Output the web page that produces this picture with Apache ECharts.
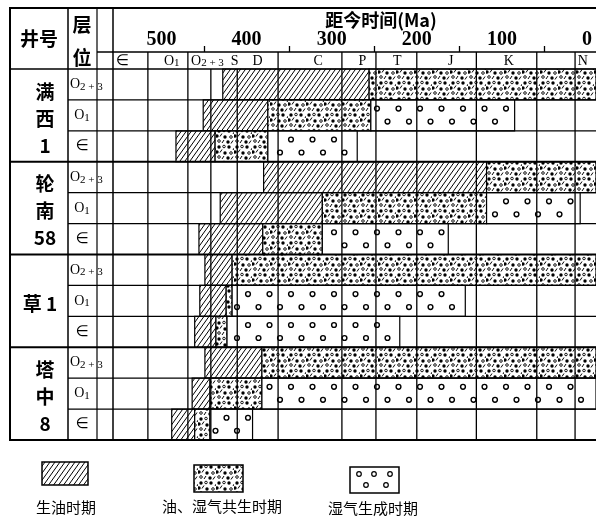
<!DOCTYPE html>
<html><head><meta charset="utf-8">
<script src="https://cdn.jsdelivr.net/npm/echarts@6/dist/echarts.min.js"></script>
<style>html,body{margin:0;padding:0;background:#fff}#c{width:596px;height:517px}</style>
</head><body><div id="c"></div>
<script>
// ===== DATA (ages in Ma) =====
const wells = ['满西1', '轮南58', '草1', '塔中8'];
const wellLabels = ['满\n西\n1', '轮\n南\n58', '草 1', '塔\n中\n8'];
const strata = ['O2+3', 'O1', '∈'];
// 12 rows = 4 wells x 3 strata (O2+3, O1, ∈)
const oilStart = [428, 451, 483, 380, 431, 456, 449, 455, 461, 449, 464, 488];
const oilEnd   = [256, 375, 437, 118, 311, 381, 417, 424, 436, 382, 443, 461];
const cogenEnd = [-10.6, 254, 375, -10.6, 118, 311, -10.6, 417, 423, -10.6, 382, 443];
const gasEnd   = [null, 85, 270, null, 8, 163, null, 143, 220, null, -10.6, 393];
const periodBounds = [516, 469, 442, 411, 363, 288, 248, 200, 130, 59, 14];
const boundsInHeader = [1, 1, 0, 0, 1, 1, 1, 1, 1, 1, 1];
const periodNames = ['∈', 'O1', 'O2+3', 'S', 'D', 'C', 'P', 'T', 'J', 'K', 'N'];
const periodLabelAge = [546, 488, 446, 414, 387, 316, 264, 223, 160, 92, 5];
const ageLabels = [500, 400, 300, 200, 100, 0];
const ageTicks = [450, 350, 250, 150, 50];
const legendNames = ['生油时期', '油、湿气共生时期', '湿气生成时期'];
const axisTitle = '距今时间(Ma)';

// ===== textures =====
function makeHatch() {
  const c = document.createElement('canvas'); c.width = 5; c.height = 7;
  const g = c.getContext('2d');
  g.fillStyle = '#fff'; g.fillRect(0, 0, 5, 7);
  g.strokeStyle = '#000'; g.lineWidth = 1;
  g.beginPath();
  [-5, 0, 5].forEach(dx => { g.moveTo(dx - 1, 8.4); g.lineTo(dx + 6, -1.4); });
  g.stroke();
  return c;
}
function makeCogen() {
  const W = 18, H = 16;
  const c = document.createElement('canvas'); c.width = W; c.height = H;
  const g = c.getContext('2d');
  g.fillStyle = '#fff'; g.fillRect(0, 0, W, H);
  g.fillStyle = '#000'; g.strokeStyle = '#000';
  [[3, 3], [13, 3], [9, 9], [12, 14], [1, 8]].forEach(p => { g.beginPath(); g.arc(p[0], p[1], 1.7, 0, Math.PI * 2); g.fill(); });
  g.lineWidth = 0.9;
  [[8, 2.5], [15, 9], [3, 13]].forEach(p => { g.beginPath(); g.arc(p[0], p[1], 1.3, 0, Math.PI * 2); g.stroke(); });
  g.lineWidth = 1;
  g.beginPath();
  [[4, 8.5, 6, 5.5], [6, 15, 8, 12], [15, 15.5, 17, 12.5], [17, 6, 18.5, 3.5]].forEach(s => { g.moveTo(s[0], s[1]); g.lineTo(s[2], s[3]); });
  g.stroke();
  return c;
}
const hatchFill = { image: makeHatch(), repeat: 'repeat' };
const cogenFill = { image: makeCogen(), repeat: 'repeat' };

const AX_MIN = -10.6, AX_MAX = 557;
const rows = strata.length * wells.length;

const barData = [];
for (let i = 0; i < rows; i++) {
  barData.push([oilStart[i], i, oilEnd[i], 0]);
  barData.push([oilEnd[i], i, cogenEnd[i], 1]);
  if (gasEnd[i] !== null) barData.push([cogenEnd[i], i, gasEnd[i], 2]);
}

function gasCircles(x, y, w, h) {
  const out = [];
  const yy = [y + h * 0.28, y + h * 0.7];
  yy.forEach((cy, r) => {
    for (let k = 0; k < 30; k++) {
      const cx = 119 + r * 10.5 + k * 21.5;
      if (cx > x + 4 && cx < x + w - 4) {
        out.push({ type: 'circle', shape: { cx, cy, r: 2.4 }, style: { fill: '#fff', stroke: '#000', lineWidth: 1.4 } });
      }
    }
  });
  return out;
}

function renderBar(params, api) {
  const s = api.value(0), row = api.value(1), e = api.value(2), kind = api.value(3);
  const a = api.coord([s, row]), b = api.coord([e, row]);
  const h = api.size([0, 1])[1];
  const x = a[0], w = b[0] - a[0], y = a[1] - h / 2;
  if (kind === 0) return { type: 'rect', shape: { x, y, width: w, height: h }, style: { fill: hatchFill, stroke: '#000', lineWidth: 1.2 } };
  if (kind === 1) return { type: 'rect', shape: { x, y, width: w, height: h }, style: { fill: cogenFill, stroke: '#000', lineWidth: 1.2 } };
  return { type: 'group', children: [{ type: 'rect', shape: { x, y, width: w, height: h }, style: { fill: '#fff', stroke: '#000', lineWidth: 1.2 } }].concat(gasCircles(x, y, w, h)) };
}

const subRich = {
  o: { fontSize: 14, fontFamily: 'Liberation Serif', color: '#000' },
  s: { fontSize: 11, fontFamily: 'Liberation Serif', color: '#000', verticalAlign: 'bottom', padding: [5, 0, 0, 0] },
  e: { fontSize: 15, fontFamily: 'DejaVu Sans', color: '#000' }
};
function stratText(n) {
  if (n === 'O2+3') return '{o|O}{s|2 + 3}';
  if (n === 'O1') return '{o|O}{s|1}';
  if (n === '∈') return '{e|∈}';
  return '{o|' + n + '}';
}

function renderTable(params, api) {
  const row = api.value(1);
  const p = api.coord([AX_MIN, row]);
  const h = api.size([0, 1])[1];
  const top = p[1] - h / 2, bot = p[1] + h / 2;
  const si = row % strata.length, wi = Math.floor(row / strata.length);
  const ch = [];
  const wellEnd = si === strata.length - 1;
  ch.push({ type: 'line', shape: { x1: wellEnd ? 10 : 68, y1: bot, x2: 596, y2: bot }, style: { stroke: '#000', lineWidth: wellEnd ? 2 : 1.3 } });
  if (row === 0) ch.push({ type: 'line', shape: { x1: 10, y1: top, x2: 596, y2: top }, style: { stroke: '#000', lineWidth: 1.6 } });
  const n = strata[si];
  ch.push({ type: 'text', x: n === 'O2+3' ? 70 : 82, y: p[1], style: { text: stratText(n), rich: subRich, align: n === 'O2+3' ? 'left' : 'center', verticalAlign: 'middle' } });
  if (si === 0) {
    const single = wellLabels[wi].indexOf('\n') < 0;
    ch.push({ type: 'text', x: single ? 40 : 45, y: top + 1.5 * h + 3, style: { text: wellLabels[wi], fontSize: 19, lineHeight: 27, fontFamily: 'Noto Sans CJK SC', fontWeight: 'bold', fill: '#000', align: 'center', verticalAlign: 'middle' } });
  }
  return { type: 'group', children: ch };
}

function renderBound(params, api) {
  const age = api.value(0), inHead = api.value(2);
  const p0 = api.coord([age, 0]), p1 = api.coord([age, rows - 1]);
  const h = api.size([0, 1])[1];
  const top = p0[1] - h / 2 - (inHead ? 17 : 0);
  return { type: 'line', shape: { x1: p0[0], y1: top, x2: p0[0], y2: p1[1] + h / 2 }, style: { stroke: '#000', lineWidth: 1.3 } };
}

function renderHead(params, api) {
  const age = api.value(0), j = api.value(2);
  const p = api.coord([age, 0]);
  const h = api.size([0, 1])[1];
  const n = periodNames[j];
  return { type: 'text', x: p[0], y: p[1] - h / 2 - 8, style: { text: stratText(n), rich: subRich, align: 'center', verticalAlign: 'middle' } };
}

const chart = echarts.init(document.getElementById('c'));
const ink = { stroke: '#000', lineWidth: 1.5 };
chart.setOption({
  animation: false,
  backgroundColor: '#fff',
  grid: { left: 113, right: 0, top: 69, bottom: 77 },
  xAxis: {
    type: 'value', inverse: true, min: AX_MIN, max: AX_MAX, position: 'top', offset: 17,
    axisLine: { show: true, lineStyle: { color: '#000', width: 1.5 } },
    axisTick: { show: true, customValues: ageTicks, length: 6, lineStyle: { color: '#000', width: 1.3 } },
    axisLabel: { customValues: ageLabels, fontSize: 20, fontFamily: 'Liberation Serif', fontWeight: 'bold', color: '#000', margin: 2 },
    splitLine: { show: false }
  },
  yAxis: { type: 'category', inverse: true, show: false, data: Array.from({ length: rows }, (_, i) => i) },
  series: [
    { type: 'custom', renderItem: renderBar, data: barData, encode: { x: [0, 2], y: 1 }, z: 2, silent: true },
    { type: 'custom', renderItem: renderBound, data: periodBounds.map((a, j) => [a, 0, boundsInHeader[j]]), encode: { x: 0, y: 1 }, z: 3, silent: true },
    { type: 'custom', renderItem: renderTable, data: Array.from({ length: rows }, (_, i) => [AX_MIN, i]), encode: { x: 0, y: 1 }, z: 4, silent: true },
    { type: 'custom', renderItem: renderHead, data: periodLabelAge.map((a, j) => [a, 0, j]), encode: { x: 0, y: 1 }, z: 4, silent: true }
  ],
  graphic: [
    { type: 'rect', shape: { x: 10, y: 8, width: 590, height: 432 }, style: { fill: null, stroke: '#000', lineWidth: 2 }, z: 10 },
    { type: 'line', shape: { x1: 68, y1: 8, x2: 68, y2: 440 }, style: ink, z: 10 },
    { type: 'line', shape: { x1: 97, y1: 8, x2: 97, y2: 440 }, style: { stroke: '#000', lineWidth: 1.2 }, z: 10 },
    { type: 'line', shape: { x1: 113, y1: 8, x2: 113, y2: 440 }, style: ink, z: 10 },
    { type: 'line', shape: { x1: 97, y1: 52, x2: 113, y2: 52 }, style: ink, z: 10 },
    { type: 'text', x: 39, y: 39, style: { text: '井号', fontSize: 19, fontFamily: 'Noto Sans CJK SC', fontWeight: 'bold', fill: '#000', align: 'center', verticalAlign: 'middle' }, z: 10 },
    { type: 'text', x: 82, y: 41, style: { text: '层\n位', fontSize: 19, lineHeight: 33, fontFamily: 'Noto Sans CJK SC', fontWeight: 'bold', fill: '#000', align: 'center', verticalAlign: 'middle' }, z: 10 },
    { type: 'text', x: 381, y: 20, style: { text: axisTitle, fontSize: 18, fontFamily: 'Noto Sans CJK SC', fontWeight: 'bold', fill: '#000', align: 'center', verticalAlign: 'middle' }, z: 10 },
    // legend
    { type: 'rect', shape: { x: 42, y: 462, width: 46, height: 23 }, style: { fill: hatchFill, stroke: '#000', lineWidth: 1.5 }, z: 10 },
    { type: 'rect', shape: { x: 194, y: 465, width: 49, height: 27 }, style: { fill: cogenFill, stroke: '#000', lineWidth: 1.5 }, z: 10 },
    { type: 'rect', shape: { x: 350, y: 467, width: 49, height: 26 }, style: { fill: '#fff', stroke: '#000', lineWidth: 1.5 }, z: 10 },
    ...[[359, 474], [374, 474], [390, 474], [366, 485], [386, 485]].map(c => ({ type: 'circle', shape: { cx: c[0], cy: c[1], r: 2.3 }, style: { fill: '#fff', stroke: '#000', lineWidth: 1.2 }, z: 11 })),
    ...[[66, 507], [222, 506], [373, 508]].map((c, i) => ({ type: 'text', x: c[0], y: c[1], style: { text: legendNames[i], fontSize: 15, fontFamily: 'Noto Sans CJK SC', fill: '#000', align: 'center', verticalAlign: 'middle' }, z: 10 }))
  ]
});
</script></body></html>
